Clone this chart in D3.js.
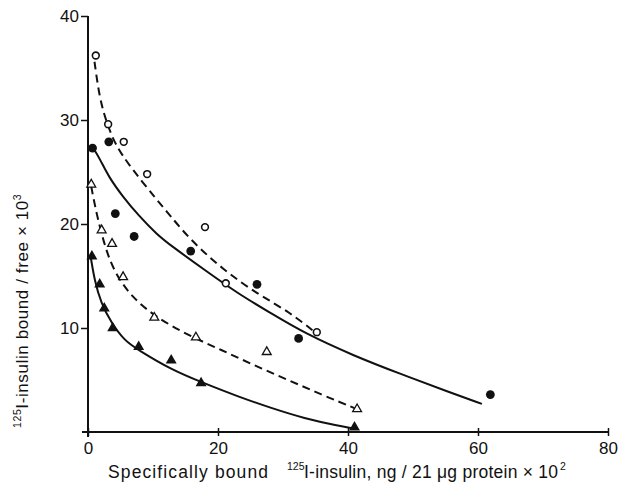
<!DOCTYPE html>
<html>
<head>
<meta charset="utf-8">
<script src="https://cdn.jsdelivr.net/npm/d3@7"></script>
<style>
  body { margin: 0; background: #fff; }
  svg text { font-family: "Liberation Sans", Arial, sans-serif; fill: #111; }
</style>
</head>
<body>
<svg id="chart" width="619" height="485"></svg>
<script>
/// data (x: bound x10^2, y: bound/free x10^3)
var openCircles = [[1.2,36.2],[3.1,29.6],[5.5,27.9],[9.1,24.8],[18.0,19.7],[21.2,14.3],[35.2,9.6]];
var filledCircles = [[0.7,27.3],[3.2,27.9],[4.2,21.0],[7.1,18.8],[15.8,17.4],[26.0,14.2],[32.4,9.0],[61.9,3.6]];
var openTriangles = [[0.5,23.8],[2.1,19.4],[3.7,18.1],[5.4,14.9],[10.2,11.0],[16.6,9.1],[27.5,7.7],[41.4,2.2]];
var filledTriangles = [[0.6,16.9],[1.8,14.2],[2.5,11.9],[3.8,10.0],[7.8,8.2],[12.8,6.9],[17.4,4.7],[41.0,0.45]];

/// fitted curves
var curveOpenCircles = [[1.0,35.6],[1.8,32.0],[2.9,29.7],[4.2,27.6],[6.5,25.5],[10.6,22.3],[12.8,20.7],
                        [15.7,18.5],[20.8,15.6],[26.0,13.3],[31.1,11.5],[35.1,9.5]];
var curveFilledCircles = [[0.8,27.3],[1.8,26.3],[3.2,24.5],[5.4,22.6],[7.8,20.8],[10.6,19.0],[12.8,17.9],
                          [17.9,15.6],[23.1,13.3],[28.2,11.4],[33.3,9.5],[41.0,7.3],[48.0,5.6],
                          [55.7,3.8],[60.6,2.7]];
var curveOpenTriangles = [[0.5,23.6],[1.3,21.0],[2.6,17.8],[4.1,15.3],[6.7,13.0],[10.3,11.1],[15.4,9.3],
                          [20.5,7.9],[25.6,6.4],[30.8,5.0],[35.9,3.6],[41.0,2.3]];
var curveFilledTriangles = [[0.4,16.9],[1.0,14.6],[2.0,12.4],[3.6,10.5],[5.6,8.8],[7.7,7.9],[12.8,6.0],
                            [17.4,4.8],[23.1,3.4],[28.2,2.3],[33.3,1.3],[38.5,0.6],[40.8,0.35]];

var xTicks = [0, 20, 40, 60, 80],
    yTicks = [10, 20, 30, 40];

var svg = d3.select("#chart");

var x = d3.scaleLinear().domain([0, 80]).range([88, 608]),
    y = d3.scaleLinear().domain([0, 40]).range([432, 16]);

var ink = "#111";

// axes
var xAxis = svg.append("g")
               .attr("transform", "translate(0," + y(0) + ")")
               .call(d3.axisBottom(x).tickValues(xTicks).tickSize(4).tickFormat(d3.format("d")));
xAxis.select(".domain").remove();
xAxis.selectAll(".tick line").attr("y1", -4).attr("y2", 4)
     .attr("stroke", ink).attr("stroke-width", 1.5);
xAxis.selectAll(".tick text").attr("y", 10).style("font-size", "17px").attr("fill", ink);

var yAxis = svg.append("g")
               .attr("transform", "translate(" + x(0) + ",0)")
               .call(d3.axisLeft(y).tickValues(yTicks).tickSize(7).tickPadding(2));
yAxis.select(".domain").remove();
yAxis.selectAll(".tick line").attr("stroke", ink).attr("stroke-width", 1.5);
yAxis.selectAll(".tick text").style("font-size", "17px").attr("fill", ink);

svg.append("line")
   .attr("x1", x(0) - 6).attr("x2", x(80))
   .attr("y1", y(0)).attr("y2", y(0))
   .attr("stroke", ink).attr("stroke-width", 2);

svg.append("line")
   .attr("x1", x(0)).attr("x2", x(0))
   .attr("y1", y(0) + 5).attr("y2", y(40))
   .attr("stroke", ink).attr("stroke-width", 2);

// curves
var line = d3.line()
             .x(d => x(d[0]))
             .y(d => y(d[1]))
             .curve(d3.curveBasis);

var curves = [{data: curveOpenCircles, dash: "8,5"},
              {data: curveFilledCircles, dash: null},
              {data: curveOpenTriangles, dash: "8,5"},
              {data: curveFilledTriangles, dash: null}];

svg.selectAll(".fit")
   .data(curves)
   .enter()
   .append("path")
   .attr("class", "fit")
   .attr("d", d => line(d.data))
   .attr("fill", "none")
   .attr("stroke", ink)
   .attr("stroke-width", 2)
   .attr("stroke-dasharray", d => d.dash);

// markers
var tri = d3.symbol().type(d3.symbolTriangle);

svg.selectAll(".oc")
   .data(openCircles)
   .enter()
   .append("circle")
   .attr("cx", d => x(d[0])).attr("cy", d => y(d[1]))
   .attr("r", 3.4)
   .attr("fill", "#fff").attr("stroke", ink).attr("stroke-width", 1.6);

svg.selectAll(".fc")
   .data(filledCircles)
   .enter()
   .append("circle")
   .attr("cx", d => x(d[0])).attr("cy", d => y(d[1]))
   .attr("r", 4.4)
   .attr("fill", ink);

svg.selectAll(".ot")
   .data(openTriangles)
   .enter()
   .append("path")
   .attr("d", tri.size(34)())
   .attr("transform", d => "translate(" + x(d[0]) + "," + y(d[1]) + ")")
   .attr("fill", "#fff").attr("stroke", ink).attr("stroke-width", 1.3);

svg.selectAll(".ft")
   .data(filledTriangles)
   .enter()
   .append("path")
   .attr("d", tri.size(52)())
   .attr("transform", d => "translate(" + x(d[0]) + "," + y(d[1]) + ")")
   .attr("fill", ink);

// axis titles
var xt = svg.append("g").style("font-size", "17.5px");

xt.append("text").attr("x", 108).attr("y", 478)
  .attr("textLength", 160).attr("lengthAdjust", "spacing")
  .text("Specifically bound");
xt.append("text").attr("x", 287).attr("y", 470)
  .style("font-size", "10.5px").text("125");
xt.append("text").attr("x", 304).attr("y", 478)
  .attr("textLength", 254).attr("lengthAdjust", "spacing")
  .text("I-insulin, ng / 21 μg protein × 10");
xt.append("text").attr("x", 560).attr("y", 470)
  .style("font-size", "10.5px").text("2");

var yTitle = svg.append("text")
                .attr("transform", "translate(28,428) rotate(-90)")
                .style("font-size", "17px")
                .style("letter-spacing", "0.6px");
yTitle.append("tspan").attr("dy", -7).style("font-size", "10.5px").text("125");
yTitle.append("tspan").attr("dy", 7).text("I-insulin bound / free × 10");
yTitle.append("tspan").attr("dy", -7).style("font-size", "10.5px").text("3");
</script>
</body>
</html>
